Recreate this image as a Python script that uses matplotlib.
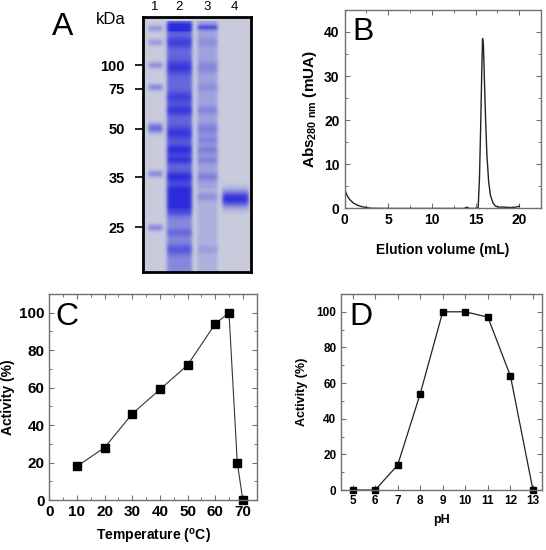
import numpy as np
import matplotlib
matplotlib.use('Agg')
import matplotlib.pyplot as plt
from matplotlib.ticker import MultipleLocator

plt.rcParams['font.family'] = ['Liberation Sans', 'DejaVu Sans']
plt.rcParams['mathtext.fontset'] = 'custom'
plt.rcParams['mathtext.rm'] = 'Liberation Sans'
plt.rcParams['mathtext.bf'] = 'Liberation Sans:bold'

# ---- panel A: SDS-PAGE gel (positions in gel pixel rows, 0 = top) ----
lane_labels = ['1', '2', '3', '4']
lane_centers = [12, 36, 64, 92]
lane_widths = [14, 25, 20, 26]
marker_kda = ['100', '75', '50', '35', '25']
marker_rows = [48, 72, 112, 161, 211]
# smear segments per lane: (row start, row end, level)
lane_smear = [
    [],
    [(4, 172, 0.62), (172, 192, 0.75), (192, 256, 0.42)],
    [(4, 172, 0.26), (172, 256, 0.17)],
    [],
]
# bands per lane: (row, strength, half-thickness)
lane_bands = [
    [(11, 0.3, 2.5), (25, 0.3, 2.5), (48, 0.35, 2.5), (70, 0.4, 2.5), (111, 0.6, 3.5), (157, 0.4, 2.5), (211, 0.4, 2.5)],
    [(10, 0.8, 2.5), (25, 0.25, 4), (50, 0.3, 5), (80, 0.25, 4), (93, 0.3, 4), (116, 0.3, 5),
     (133, 0.35, 4), (143, 0.3, 3), (160, 0.35, 4), (182, 0.95, 7.5), (196, 0.2, 3), (216, 0.2, 3), (233, 0.3, 4)],
    [(10, 0.5, 2), (25, 0.12, 3), (50, 0.18, 4), (70, 0.12, 3), (93, 0.18, 3), (112, 0.22, 4),
     (123, 0.18, 3), (133, 0.22, 3), (143, 0.18, 3), (160, 0.22, 3), (180, 0.2, 3), (233, 0.12, 3)],
    [(182, 0.95, 6)],
]

# ---- panel B: size-exclusion chromatogram ----
elution_ml = [0, 0.1, 0.3, 0.6, 1.0, 1.5, 2.0, 2.5, 3.0, 5, 10, 13.7, 14.0, 14.3, 15.0, 15.3,
              15.45, 15.6, 15.72, 15.8, 15.9, 16.0, 16.15, 16.3, 16.5, 16.7, 17.0, 17.3, 17.7,
              18.2, 19.0, 19.6, 20.0]
abs_280 = [4.6, 3.9, 2.9, 2.0, 1.25, 0.7, 0.4, 0.2, 0.05, 0, 0, 0, 0.3, 0, 0, 0.2,
           7, 20, 32, 38.5, 37, 30, 20, 12, 6, 3, 1.2, 0.5, 0.3,
           0.3, 0.2, 0.3, 0.5]

# ---- panel C: temperature profile ----
temperature = [10, 20, 30, 40, 50, 60, 65, 68, 70]
activity_temp = [18, 28, 46, 59, 72, 94, 100, 20, 0]

# ---- panel D: pH profile ----
ph = [5, 6, 7, 8, 9, 10, 11, 12, 13]
activity_ph = [0, 0, 14, 54, 100, 100, 97, 64, 0]

fig = plt.figure(figsize=(5.46, 5.5), dpi=100)

# gel image built from the band lists
rows, cols = 256, 108
yy = np.arange(rows)[:, None]
xx = np.arange(cols)[None, :]
inten = np.zeros((rows, cols))
for cx, w, smear, bands in zip(lane_centers, lane_widths, lane_smear, lane_bands):
    mask = 1.0 / (1.0 + np.exp((np.abs(xx - cx) - w / 2.0) / 1.0))
    prof = np.zeros((rows, 1))
    for r0, r1, lev in smear:
        prof += lev * ((yy >= r0) & (yy < r1))
    for r, s, hw in bands:
        prof += s * np.exp(-0.5 * ((yy - r) / hw) ** 2)
    inten += np.clip(prof, 0, 1) * mask
inten = np.clip(inten, 0, 1)
bg = np.array([0.79, 0.80, 0.87])
blue = np.array([0.17, 0.17, 0.86])
img = bg[None, None, :] * (1 - inten[..., None]) + blue[None, None, :] * inten[..., None]

ax_a = fig.add_axes([0.262, 0.5055, 0.197, 0.463])
ax_a.imshow(img, aspect='auto', extent=(0, cols, rows, 0), interpolation='bilinear')
ax_a.set_xticks([])
ax_a.set_yticks(marker_rows)
ax_a.set_yticklabels(marker_kda, fontsize=10.5, fontweight='bold')
ax_a.tick_params(axis='y', length=6, width=1.2, pad=7)
for sp in ax_a.spines.values():
    sp.set_linewidth(2)
    sp.set_color('black')
for x, lab in zip(lane_centers, lane_labels):
    ax_a.text(x, -4, lab, ha='center', va='bottom', fontsize=9.5, clip_on=False)
fig.text(0.176, 0.965, 'kDa', ha='left', va='center', fontsize=12)
fig.text(0.095, 0.951, 'A', ha='left', va='center', fontsize=23)


def style_axes(ax, tick_size):
    for sp in ax.spines.values():
        sp.set_color('#707070')
        sp.set_linewidth(1.0)
    ax.tick_params(which='both', direction='in', top=True, right=True, color='#707070')
    ax.tick_params(which='major', length=3.5, width=0.8, labelsize=tick_size)
    ax.tick_params(which='minor', length=2, width=0.7)
    for lab in ax.get_xticklabels() + ax.get_yticklabels():
        lab.set_fontweight('bold')


# panel B
ax_b = fig.add_axes([0.631, 0.621, 0.36, 0.361])
ax_b.plot(elution_ml, abs_280, color='#222222', lw=1.0)
ax_b.set_xlim(0, 22.5)
ax_b.set_ylim(0, 45)
ax_b.xaxis.set_major_locator(MultipleLocator(5))
ax_b.xaxis.set_minor_locator(MultipleLocator(2.5))
ax_b.yaxis.set_major_locator(MultipleLocator(10))
ax_b.yaxis.set_minor_locator(MultipleLocator(5))
style_axes(ax_b, 10)
ax_b.set_xlabel('Elution volume (mL)', fontsize=10, fontweight='bold', labelpad=11)
ax_b.set_ylabel(r'Abs$_{\bf 280\ nm}$ (mUA)', fontsize=11, fontweight='bold', labelpad=4)
ax_b.text(0.04, 0.965, 'B', transform=ax_b.transAxes, ha='left', va='top', fontsize=23)

# panel C
ax_c = fig.add_axes([0.0903, 0.0909, 0.3797, 0.3746])
ax_c.plot(temperature, activity_temp, color='#333333', lw=0.8, marker='s',
          markersize=5.5, markerfacecolor='black', markeredgecolor='black', clip_on=False)
ax_c.set_xlim(0, 75)
ax_c.set_ylim(0, 110)
ax_c.xaxis.set_major_locator(MultipleLocator(10))
ax_c.xaxis.set_minor_locator(MultipleLocator(5))
ax_c.yaxis.set_major_locator(MultipleLocator(20))
ax_c.yaxis.set_minor_locator(MultipleLocator(10))
style_axes(ax_c, 11)
ax_c.set_xlabel('Temperature ($^{\\mathregular{o}}$C)', fontsize=10, fontweight='bold', labelpad=6)
ax_c.set_ylabel('Activity (%)', fontsize=10, fontweight='bold', labelpad=3)
ax_c.text(0.03, 0.96, 'C', transform=ax_c.transAxes, ha='left', va='top', fontsize=23)

# panel D
ax_d = fig.add_axes([0.625, 0.109, 0.3677, 0.3565])
ax_d.plot(ph, activity_ph, color='#222222', lw=0.9, marker='s',
          markersize=5, markerfacecolor='black', markeredgecolor='black', clip_on=False)
ax_d.set_xlim(4.5, 13.4)
ax_d.set_ylim(0, 110)
ax_d.xaxis.set_major_locator(MultipleLocator(1))
ax_d.yaxis.set_major_locator(MultipleLocator(20))
ax_d.yaxis.set_minor_locator(MultipleLocator(10))
style_axes(ax_d, 8.5)
ax_d.set_xlabel('pH', fontsize=9, fontweight='bold', labelpad=5)
ax_d.set_ylabel('Activity (%)', fontsize=9, fontweight='bold', labelpad=6)
ax_d.text(0.04, 0.96, 'D', transform=ax_d.transAxes, ha='left', va='top', fontsize=23)

fig.savefig('out.png', dpi=100)
